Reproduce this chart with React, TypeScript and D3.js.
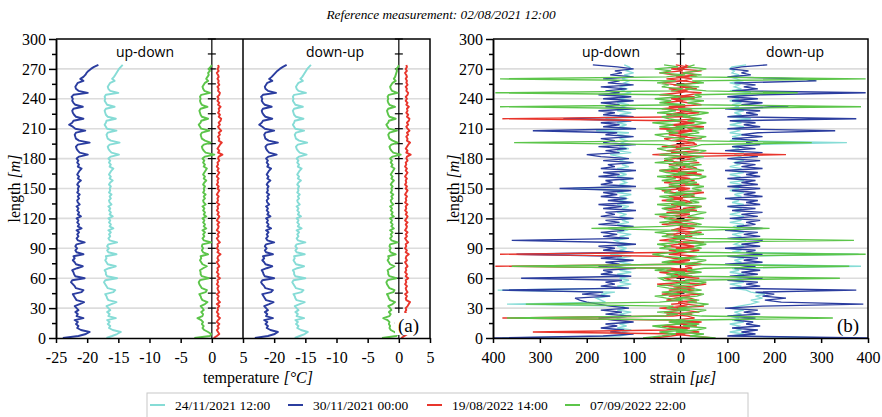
import React from 'react';
import * as d3 from 'd3';

// sampling positions along the cable [m]
const lengths = d3.range(0, 275, 2);

const seriesNames = ['24/11/2021 12:00', '30/11/2021 00:00', '19/08/2022 14:00', '07/09/2022 22:00'];
const seriesColors = ['#86dcd6', '#2b3d9f', '#e8352c', '#5cc54a'];

const tempTicksA = [-25, -20, -15, -10, -5, 0, 5];
const tempTicksB = [-20, -15, -10, -5, 0, 5];
const strainTicks = [-400, -300, -200, -100, 0, 100, 200, 300, 400];
const lengthTicks = [0, 30, 60, 90, 120, 150, 180, 210, 240, 270, 300];

// temperature [°C], up-down
const tUdCyan = [
  -16.9,-16.0,-15.2,-14.6,-15.9,-16.5,-16.3,-16.7,-16.4,-16.8,
  -15.4,-16.6,-16.4,-16.8,-16.3,-16.6,-16.9,-16.1,-15.3,-16.6,
  -16.8,-16.9,-17.1,-15.8,-15.5,-16.7,-16.9,-17.1,-17.3,-17.1,
  -15.2,-16.8,-17.0,-17.0,-17.2,-16.5,-15.4,-16.7,-16.9,-17.1,
  -16.9,-17.0,-15.3,-16.6,-16.8,-16.5,-16.8,-16.6,-15.2,-16.4,
  -16.6,-16.3,-16.5,-16.2,-16.6,-15.8,-16.4,-16.2,-16.5,-16.3,
  -16.6,-15.9,-16.4,-16.2,-16.5,-16.3,-16.6,-16.1,-16.4,-16.5,
  -16.2,-16.4,-16.1,-16.5,-16.3,-16.4,-16.2,-16.5,-16.3,-15.9,
  -16.4,-16.2,-16.5,-16.3,-16.1,-15.8,-16.4,-16.2,-16.5,-16.3,
  -16.6,-16.2,-14.9,-16.1,-16.4,-16.6,-16.7,-16.4,-14.8,-16.2,
  -16.7,-16.8,-16.9,-16.7,-15.3,-16.8,-17.0,-17.2,-17.0,-16.9,
  -15.4,-16.7,-17.0,-17.1,-17.2,-17.0,-15.6,-16.8,-17.0,-17.2,
  -17.1,-17.2,-17.0,-15.0,-16.3,-16.6,-16.7,-16.5,-16.3,-15.6,
  -16.0,-15.7,-15.5,-15.3,-15.1,-14.9,-14.6,-14.3,
];
const tUdBlue = [
  -23.9,-21.4,-20.2,-19.6,-21.0,-21.6,-21.4,-21.8,-21.5,-22.0,
  -20.6,-21.7,-21.5,-21.9,-21.4,-21.7,-22.0,-21.2,-20.5,-21.7,
  -21.9,-22.1,-22.3,-20.9,-20.6,-21.8,-22.0,-22.3,-22.6,-22.4,
  -20.4,-21.9,-22.1,-22.2,-22.4,-21.6,-20.7,-21.8,-22.0,-22.3,
  -22.0,-22.2,-20.6,-21.7,-21.9,-21.6,-21.9,-21.7,-20.4,-21.5,
  -21.7,-21.4,-21.6,-21.3,-21.7,-20.9,-21.5,-21.3,-21.6,-21.4,
  -21.7,-21.0,-21.5,-21.3,-21.6,-21.4,-21.7,-21.2,-21.5,-21.6,
  -21.3,-21.5,-21.2,-21.6,-21.4,-21.5,-21.3,-21.6,-21.4,-21.0,
  -21.5,-21.3,-21.6,-21.4,-21.2,-20.9,-21.5,-21.3,-21.6,-21.4,
  -21.7,-21.3,-19.9,-21.2,-21.5,-21.7,-21.8,-21.5,-19.6,-21.3,
  -21.8,-21.9,-22.0,-21.8,-20.3,-21.9,-22.3,-22.9,-22.4,-22.2,
  -20.6,-21.8,-22.1,-22.3,-22.4,-22.2,-20.7,-21.9,-22.2,-22.4,
  -22.3,-22.5,-22.2,-19.9,-21.4,-21.8,-21.9,-21.7,-21.5,-20.6,
  -21.1,-20.6,-20.3,-20.1,-19.8,-19.4,-18.9,-18.2,
];
const tUdRed = [
  0.3,0.8,1.2,1.0,0.8,1.1,0.9,1.2,0.8,1.0,
  1.3,0.9,1.1,0.8,1.0,0.9,1.2,0.8,1.3,1.0,
  0.9,1.1,0.8,1.2,1.0,0.9,1.1,0.8,1.0,0.9,
  1.3,0.9,1.1,0.8,1.0,0.9,1.2,1.0,0.8,1.1,
  0.9,1.0,1.4,0.9,1.1,0.8,1.0,0.9,1.3,1.0,
  0.8,1.1,0.9,1.2,0.8,1.0,1.1,0.9,1.2,0.8,
  1.0,1.2,0.9,1.1,0.8,1.0,0.9,1.2,0.8,1.0,
  0.9,1.1,0.8,1.0,1.2,0.9,1.1,0.8,1.0,0.9,
  1.1,0.8,1.0,1.2,0.9,1.1,0.8,1.0,0.9,1.2,
  1.0,1.1,1.7,1.0,1.2,0.9,1.1,1.3,1.6,1.1,
  1.2,1.0,1.3,1.1,1.5,1.2,1.0,1.3,1.1,1.4,
  1.5,1.1,1.3,1.0,1.2,1.1,1.4,1.0,1.2,0.9,
  1.1,0.9,1.2,1.3,1.0,1.1,0.9,1.2,1.0,1.1,
  0.9,1.1,1.0,0.8,1.1,0.9,1.1,1.0,
];
const tUdGreen = [
  -2.8,-0.3,-0.1,-0.6,-1.2,-1.5,-1.3,-1.6,-1.4,-1.7,
  -2.3,-1.5,-1.4,-1.7,-1.3,-1.5,-1.8,-1.1,-0.7,-1.5,
  -1.7,-1.8,-2.0,-1.0,-0.8,-1.6,-1.8,-2.0,-2.1,-1.9,
  -0.5,-1.6,-1.8,-1.8,-1.9,-1.4,-0.8,-1.5,-1.7,-1.9,
  -1.7,-1.8,-0.6,-1.4,-1.6,-1.4,-1.6,-1.5,-0.1,-1.3,
  -1.5,-1.2,-1.4,-1.1,-1.5,-0.9,-1.3,-1.1,-1.4,-1.2,
  -1.5,-0.9,-1.3,-1.1,-1.4,-1.2,-1.5,-1.0,-1.3,-1.4,
  -1.1,-1.3,-1.0,-1.4,-1.2,-1.3,-1.1,-1.4,-1.2,-0.9,
  -1.3,-1.1,-1.4,-1.2,-1.0,-0.8,-1.3,-1.1,-1.4,-1.2,
  -1.5,-1.1,0.4,-1.0,-1.3,-1.5,-1.6,-1.3,-0.2,-1.1,
  -1.6,-1.7,-1.8,-1.6,-0.4,-1.7,-1.9,-2.1,-1.8,-1.7,
  -0.6,-1.6,-1.8,-1.9,-2.0,-1.8,-0.7,-1.6,-1.8,-1.9,
  -1.8,-1.9,-1.7,-0.3,-1.2,-1.4,-1.5,-1.3,-1.1,-0.6,
  -0.9,-0.7,-0.5,-0.6,-0.3,-0.5,-0.2,0.0,
];

// temperature [°C], down-up
const tDuCyan = [
  -16.7,-15.9,-15.1,-14.6,-15.7,-16.3,-16.1,-16.5,-16.2,-16.6,
  -15.2,-16.4,-16.2,-16.6,-16.1,-16.4,-16.7,-15.9,-15.1,-16.4,
  -16.6,-16.7,-16.9,-15.6,-15.3,-16.5,-16.7,-16.9,-17.1,-16.9,
  -15.0,-16.6,-16.8,-16.8,-17.0,-16.3,-15.2,-16.5,-16.7,-16.9,
  -16.7,-16.8,-15.1,-16.4,-16.6,-16.3,-16.6,-16.4,-15.0,-16.2,
  -16.4,-16.1,-16.3,-16.0,-16.4,-15.6,-16.2,-16.0,-16.3,-16.1,
  -16.4,-15.7,-16.2,-16.0,-16.3,-16.1,-16.4,-15.9,-16.2,-16.3,
  -16.0,-16.2,-15.9,-16.3,-16.1,-16.2,-16.0,-16.3,-16.1,-15.7,
  -16.2,-16.0,-16.3,-16.1,-15.9,-15.6,-16.2,-16.0,-16.3,-16.1,
  -16.4,-16.0,-14.8,-15.9,-16.2,-16.4,-16.5,-16.2,-14.7,-16.0,
  -16.5,-16.6,-16.7,-16.5,-15.2,-16.6,-16.8,-17.0,-16.8,-16.7,
  -15.3,-16.5,-16.8,-16.9,-17.0,-16.8,-15.4,-16.6,-16.8,-17.0,
  -16.9,-17.0,-16.8,-14.9,-16.1,-16.4,-16.5,-16.3,-16.1,-15.4,
  -15.8,-15.5,-15.3,-15.1,-14.9,-14.7,-14.4,-14.1,
];
const tDuBlue = [
  -23.1,-21.0,-19.9,-19.4,-20.6,-21.2,-21.0,-21.4,-21.1,-21.6,
  -20.2,-21.3,-21.1,-21.5,-21.0,-21.3,-21.6,-20.8,-20.1,-21.3,
  -21.5,-21.7,-21.9,-20.5,-20.2,-21.4,-21.6,-21.9,-22.1,-21.9,
  -20.0,-21.5,-21.7,-21.8,-22.0,-21.2,-20.3,-21.4,-21.6,-21.9,
  -21.6,-21.8,-20.2,-21.3,-21.5,-21.2,-21.5,-21.3,-20.0,-21.1,
  -21.3,-21.0,-21.2,-20.9,-21.3,-20.5,-21.1,-20.9,-21.2,-21.0,
  -21.3,-20.6,-21.1,-20.9,-21.2,-21.0,-21.3,-20.8,-21.1,-21.2,
  -20.9,-21.1,-20.8,-21.2,-21.0,-21.1,-20.9,-21.2,-21.0,-20.6,
  -21.1,-20.9,-21.2,-21.0,-20.8,-20.5,-21.1,-20.9,-21.2,-21.0,
  -21.3,-20.9,-19.6,-20.8,-21.1,-21.3,-21.4,-21.1,-19.4,-20.9,
  -21.4,-21.5,-21.6,-21.4,-20.0,-21.5,-21.9,-22.4,-22.0,-21.8,
  -20.3,-21.4,-21.7,-21.9,-22.0,-21.8,-20.4,-21.5,-21.8,-22.0,
  -21.9,-22.1,-21.8,-19.7,-21.0,-21.4,-21.5,-21.3,-21.1,-20.3,
  -20.8,-20.4,-20.1,-19.8,-19.5,-19.1,-18.6,-18.0,
];
const tDuRed = [
  0.4,0.9,1.4,1.2,1.0,1.3,1.1,1.4,1.0,1.2,
  1.5,1.1,1.3,1.0,1.2,1.1,1.4,1.6,1.8,1.2,
  1.1,1.3,1.0,1.4,1.2,1.1,1.3,1.0,1.2,1.1,
  1.5,1.1,1.3,1.0,1.2,1.1,1.4,1.2,1.0,1.3,
  1.1,1.2,1.6,1.1,1.3,1.0,1.2,1.1,1.5,1.2,
  1.0,1.3,1.1,1.4,1.0,1.2,1.3,1.1,1.4,1.0,
  1.2,1.4,1.1,1.3,1.0,1.2,1.1,1.4,1.0,1.2,
  1.1,1.3,1.0,1.2,1.4,1.1,1.3,1.0,1.2,1.1,
  1.3,1.0,1.2,1.4,1.1,1.3,1.0,1.2,1.1,1.4,
  1.2,1.3,1.9,1.2,1.4,1.1,1.3,1.5,1.8,1.3,
  1.4,1.2,1.5,1.3,1.7,1.4,1.2,1.5,1.3,1.6,
  1.7,1.3,1.5,1.2,1.4,1.3,1.6,1.2,1.4,1.1,
  1.3,1.1,1.4,1.5,1.2,1.3,1.1,1.4,1.2,1.3,
  1.1,1.3,1.2,1.0,1.3,1.1,1.3,1.2,
];
const tDuGreen = [
  -2.7,-0.4,-0.2,-0.7,-1.3,-1.5,-1.4,-1.6,-1.5,-1.8,
  -2.5,-1.5,-1.3,-1.6,-1.2,-1.4,-1.7,-1.0,-0.6,-1.4,
  -1.6,-1.7,-1.9,-0.9,-0.7,-1.5,-1.7,-1.9,-2.0,-1.8,
  -0.4,-1.5,-1.7,-1.7,-1.8,-1.3,-0.7,-1.4,-1.6,-1.8,
  -1.6,-1.7,-0.5,-1.3,-1.5,-1.3,-1.5,-1.4,-0.2,-1.2,
  -1.4,-1.1,-1.3,-1.0,-1.4,-0.8,-1.2,-1.0,-1.3,-1.1,
  -1.4,-0.8,-1.2,-1.0,-1.3,-1.1,-1.4,-0.9,-1.2,-1.3,
  -1.0,-1.2,-0.9,-1.3,-1.1,-1.2,-1.0,-1.3,-1.1,-0.8,
  -1.2,-1.0,-1.3,-1.1,-0.9,-0.7,-1.2,-1.0,-1.3,-1.1,
  -1.4,-1.0,0.3,-0.9,-1.2,-1.4,-1.5,-1.2,-0.2,-1.0,
  -1.5,-1.6,-1.7,-1.5,-0.3,-1.6,-1.8,-2.0,-1.7,-1.6,
  -0.5,-1.5,-1.7,-1.8,-1.9,-1.7,-0.6,-1.5,-1.7,-1.8,
  -1.7,-1.8,-1.6,-0.2,-1.1,-1.3,-1.4,-1.2,-1.0,-0.5,
  -0.8,-0.6,-0.5,-0.4,-0.3,-0.4,-0.1,0.0,
];

// strain [µε], up-down (drawn to the left)
const sUdCyan = [
  380,130,110,125,105,135,115,130,105,125,
  135,110,130,105,135,115,125,370,160,170,
  180,150,170,140,390,115,135,105,130,110,
  130,110,135,105,130,115,140,105,130,110,
  135,105,150,110,130,115,135,105,130,140,
  110,130,105,135,115,125,105,135,110,125,
  105,130,115,135,105,125,110,135,105,130,
  115,130,105,135,110,230,105,130,115,125,
  105,135,115,130,105,135,110,125,105,130,
  115,130,150,105,135,110,130,105,125,115,
  130,105,135,110,180,105,130,115,135,105,
  160,110,130,105,135,115,125,110,135,105,
  130,110,135,105,125,115,130,105,120,110,
  125,105,120,100,115,105,110,120,
];
const sUdBlue = [
  400,165,100,150,120,170,135,160,100,145,
  175,105,160,125,170,110,150,175,200,215,
  225,150,210,165,380,110,170,140,160,125,
  340,105,170,145,165,95,175,130,160,100,
  170,125,350,100,165,140,175,95,160,360,
  110,165,135,170,120,155,100,175,130,160,
  100,170,140,160,95,165,125,175,100,155,
  115,170,135,165,105,258,95,170,145,160,
  100,175,130,165,95,170,140,155,100,165,
  110,170,200,130,160,115,175,95,165,140,
  170,100,160,135,315,95,165,130,170,105,
  250,100,165,140,175,95,160,130,170,100,
  165,105,175,130,160,115,170,100,155,130,
  165,100,150,125,140,100,135,187,
];
const sUdRed = [
  60,20,-10,315,30,-20,40,5,-30,25,
  380,15,-25,35,0,45,-15,20,-35,30,
  10,-20,40,-5,25,-30,15,50,-10,20,
  35,-25,10,45,-15,20,395,-5,30,-20,
  15,40,385,-10,25,-30,35,5,-20,45,
  10,-15,30,-35,20,5,-25,40,0,-10,
  25,45,-20,10,-30,35,0,20,-15,40,
  -5,25,-25,15,40,-10,20,-30,35,5,
  -20,30,10,-35,45,0,-15,25,-5,35,
  15,-25,60,-10,30,-20,40,5,-30,20,
  35,-15,25,0,-25,45,-10,20,-30,15,
  380,-20,30,5,-25,40,-10,15,35,-5,
  20,-30,45,0,-15,25,-25,10,40,-10,
  30,-20,15,45,-5,20,-15,10,
];
const sUdGreen = [
  80,40,10,45,-15,30,60,0,25,-10,
  370,35,5,50,-20,30,15,330,45,-5,
  30,55,0,40,-15,25,50,10,-20,35,
  45,5,30,-10,55,20,360,0,40,15,
  -15,35,60,10,-5,45,20,50,0,25,
  -10,40,15,55,5,190,30,-15,45,10,
  35,0,55,-20,25,40,10,50,-10,30,
  15,45,-5,35,20,55,0,25,-15,40,
  10,50,-10,30,45,5,25,-20,55,15,
  35,0,45,-15,30,50,10,40,355,20,
  -10,35,55,5,30,-5,45,15,60,0,
  25,40,-15,50,10,35,385,-10,45,20,
  55,0,30,395,15,-5,40,25,50,10,
  385,30,-10,45,20,55,5,35,
];

// strain [µε], down-up (drawn to the right)
const sDuCyan = [
  330,110,135,105,130,115,125,105,135,110,
  125,105,130,115,135,105,125,150,165,150,
  175,160,180,150,140,110,130,105,135,110,
  130,115,135,105,125,110,385,105,130,115,
  135,105,380,110,130,105,135,115,125,140,
  105,130,110,135,105,125,115,135,105,130,
  110,135,105,125,115,130,105,135,110,125,
  105,130,115,135,105,125,110,130,105,135,
  115,125,105,135,110,130,105,125,115,135,
  105,130,115,135,105,125,110,130,355,105,
  130,110,135,105,125,115,135,105,130,110,
  150,105,130,115,135,105,125,110,130,105,
  125,110,135,150,105,130,115,125,105,130,
  120,105,125,110,115,105,110,140,
];
const sDuBlue = [
  400,100,160,130,165,110,170,140,155,115,
  160,100,170,135,165,95,175,390,215,180,
  225,175,200,160,375,105,170,140,165,100,
  175,105,165,130,170,115,160,95,175,135,
  165,100,175,140,160,95,170,130,165,175,
  100,170,135,165,95,175,120,160,140,170,
  105,165,130,175,110,160,100,170,140,165,
  95,175,135,160,110,170,100,165,130,160,
  100,170,140,165,95,175,130,160,115,170,
  100,165,135,175,95,160,110,170,140,165,
  110,175,130,165,330,100,170,135,160,105,
  375,100,165,140,170,95,230,130,175,110,
  165,100,170,395,110,165,135,160,115,290,
  260,100,150,130,145,105,130,185,
];
const sDuRed = [
  70,25,-15,40,10,-25,35,0,45,-10,
  30,15,-30,40,5,-20,50,10,-5,35,
  20,-25,45,0,30,-15,25,55,-10,15,
  40,-20,5,35,-30,25,10,45,-15,20,
  0,35,-25,15,40,-10,30,-5,50,20,
  -15,25,10,45,-20,30,0,35,-25,15,
  40,-10,20,-30,35,5,45,-15,25,10,
  -20,30,15,50,-5,20,-25,40,0,30,
  15,-15,45,5,-20,35,25,-10,40,0,
  30,-5,225,-20,40,10,-15,35,25,-10,
  45,0,20,-25,30,15,50,-5,25,-20,
  35,10,-15,40,0,25,-25,45,15,-10,
  30,-5,20,45,-20,35,10,-15,40,5,
  25,-10,35,0,45,-5,20,10,
];
const sDuGreen = [
  75,20,50,-10,35,55,5,40,-15,30,
  325,45,0,35,55,-5,30,60,15,40,
  -10,35,50,5,45,20,-15,40,55,10,
  340,25,-5,45,15,50,360,0,35,55,
  10,40,395,20,-10,45,30,55,5,370,
  35,-15,50,20,40,190,5,45,25,-10,
  50,15,35,55,0,30,45,-15,40,20,
  55,5,30,-10,45,25,50,10,35,0,
  40,55,15,-5,50,30,10,45,-15,35,
  20,50,5,40,55,-10,30,45,280,15,
  35,55,0,40,25,50,-10,30,55,15,
  45,5,35,60,20,-5,385,40,15,50,
  0,45,30,250,55,10,40,-10,50,25,
  395,20,45,5,35,55,15,30,
];

const tempUd = [tUdCyan, tUdBlue, tUdRed, tUdGreen];
const tempDu = [tDuCyan, tDuBlue, tDuRed, tDuGreen];
const strainUd = [sUdCyan, sUdBlue, sUdRed, sUdGreen];
const strainDu = [sDuCyan, sDuBlue, sDuRed, sDuGreen];

const serif = '"Liberation Serif", "Times New Roman", serif';
const sans = '"Open Sans", "DejaVu Sans", sans-serif';

const App = () => {
  const svgRef = React.useRef(null);

  React.useEffect(() => {
    const svg = d3.select(svgRef.current);
    svg.selectAll('*').remove();

    const top = 39, bottom = 338;
    const y = d3.scaleLinear().domain([0, 300]).range([bottom, top]);
    const xA = d3.scaleLinear().domain([-25, 5]).range([56, 243]);
    const xB = d3.scaleLinear().domain([-25, 5]).range([243, 430]);
    const xS = d3.scaleLinear().domain([-400, 400]).range([493, 868]);

    // title
    svg.append('text')
      .attr('x', 441).attr('y', 19)
      .attr('text-anchor', 'middle')
      .style('font-family', serif).style('font-style', 'italic').style('font-size', '13.3px')
      .text('Reference measurement: 02/08/2021 12:00');

    // horizontal grid
    const grid = (x0, x1) => svg.append('g')
      .selectAll('line')
      .data(d3.range(30, 271, 30))
      .join('line')
        .attr('x1', x0).attr('x2', x1)
        .attr('y1', d => y(d)).attr('y2', d => y(d))
        .attr('stroke', '#dcdcdc').attr('stroke-width', 1.6);
    grid(56, 430);
    grid(493, 868);

    // zero line with crosses every 15 m
    const zeroAxis = (xp) => {
      const g = svg.append('g');
      g.append('line')
        .attr('x1', xp).attr('x2', xp).attr('y1', y(0)).attr('y2', y(300))
        .attr('stroke', '#000').attr('stroke-width', 1.2);
      g.selectAll('line.cross')
        .data(d3.range(15, 301, 15))
        .join('line')
          .attr('class', 'cross')
          .attr('x1', xp - 4).attr('x2', xp + 4)
          .attr('y1', d => y(d)).attr('y2', d => y(d))
          .attr('stroke', '#000').attr('stroke-width', 1.2);
    };
    zeroAxis(xA(0));
    zeroAxis(xB(0));
    zeroAxis(xS(0));

    // temperature profiles
    const tempLine = (xs) => d3.line()
      .x(d => xs(d))
      .y((d, i) => y(lengths[i]));
    const tg = svg.append('g').attr('fill', 'none');
    tempUd.forEach((s, k) => {
      tg.append('path').attr('d', tempLine(xA)(s))
        .attr('stroke', seriesColors[k]).attr('stroke-width', 1.9).attr('stroke-linejoin', 'round');
    });
    tempDu.forEach((s, k) => {
      tg.append('path').attr('d', tempLine(xB)(s))
        .attr('stroke', seriesColors[k]).attr('stroke-width', 1.9).attr('stroke-linejoin', 'round');
    });

    // strain profiles
    const sg = svg.append('g').attr('fill', 'none');
    [0, 1, 2, 3].forEach(k => {
      sg.append('path')
        .attr('d', d3.line().x(d => xS(-d)).y((d, i) => y(lengths[i]))(strainUd[k]))
        .attr('stroke', seriesColors[k]).attr('stroke-width', 1.4);
      sg.append('path')
        .attr('d', d3.line().x(d => xS(d)).y((d, i) => y(lengths[i]))(strainDu[k]))
        .attr('stroke', seriesColors[k]).attr('stroke-width', 1.4);
    });

    // panel labels with white background
    const tag = (x0, txt) => {
      svg.append('rect').attr('x', x0 - 3).attr('y', 313).attr('width', 30).attr('height', 22).attr('fill', '#fff');
      svg.append('text').attr('x', x0).attr('y', 332)
        .style('font-family', serif).style('font-size', '19px').text(txt);
    };
    tag(398, '(a)');
    tag(837, '(b)');

    // direction labels
    [[145, 'up-down'], [335, 'down-up'], [611, 'up-down'], [795, 'down-up']].forEach(([xp, txt]) => {
      svg.append('text').attr('x', xp).attr('y', 57).attr('text-anchor', 'middle')
        .style('font-family', sans).style('font-size', '14px').text(txt);
    });

    // frames
    const frame = (x0, x1) => {
      svg.append('path')
        .attr('d', `M${x0},${top}H${x1}V${bottom}`)
        .attr('fill', 'none').attr('stroke', '#000').attr('stroke-width', 1.5);
    };
    frame(56, 430);
    frame(493, 868);
    svg.append('line').attr('x1', 243).attr('x2', 243).attr('y1', top).attr('y2', bottom)
      .attr('stroke', '#000').attr('stroke-width', 1.5);

    const styleAxis = (g) => {
      g.attr('font-family', null).attr('font-size', null);
      g.style('font-family', serif).style('font-size', '16px');
      g.selectAll('path').attr('stroke-width', 1.5);
      g.selectAll('line').attr('stroke-width', 1.5);
      g.selectAll('text').attr('fill', '#000').style('font-family', serif);
    };

    // y axes
    [56, 493].forEach(x0 => {
      svg.append('g').attr('transform', `translate(${x0},0)`)
        .call(d3.axisLeft(y).tickValues(d3.range(15, 300, 30)).tickSize(4).tickSizeOuter(0).tickFormat(() => ''))
        .call(styleAxis);
      svg.append('g').attr('transform', `translate(${x0},0)`)
        .call(d3.axisLeft(y).tickValues(lengthTicks).tickSize(7).tickPadding(3).tickSizeOuter(0).tickFormat(d => String(d)))
        .call(styleAxis);
    });

    // x axes
    svg.append('g').attr('transform', `translate(0,${bottom})`)
      .call(d3.axisBottom(xA).tickValues(tempTicksA).tickSize(5).tickPadding(9).tickSizeOuter(0).tickFormat(d => String(d)))
      .call(styleAxis);
    svg.append('g').attr('transform', `translate(0,${bottom})`)
      .call(d3.axisBottom(xB).tickValues(tempTicksB).tickSize(5).tickPadding(9).tickSizeOuter(0).tickFormat(d => String(d)))
      .call(styleAxis);
    svg.append('g').attr('transform', `translate(0,${bottom})`)
      .call(d3.axisBottom(xS).tickValues(strainTicks).tickSize(5).tickPadding(9).tickSizeOuter(0).tickFormat(d => String(Math.abs(d))))
      .call(styleAxis);

    // axis titles
    const xTitle = (xp, main, unit) => {
      const t = svg.append('text').attr('x', xp).attr('y', 383).attr('text-anchor', 'middle')
        .style('font-family', serif).style('font-size', '16px');
      t.append('tspan').text(main + ' ');
      t.append('tspan').style('font-style', 'italic').text(unit);
    };
    xTitle(258, 'temperature', '[°C]');
    xTitle(683, 'strain', '[με]');

    const yTitle = (xp) => {
      const t = svg.append('text')
        .attr('transform', `translate(${xp},${(top + bottom) / 2}) rotate(-90)`)
        .attr('text-anchor', 'middle')
        .style('font-family', serif).style('font-size', '16px');
      t.append('tspan').text('length ');
      t.append('tspan').style('font-style', 'italic').text('[m]');
    };
    yTitle(20);
    yTitle(459);

    // legend
    svg.append('rect').attr('x', 147).attr('y', 393).attr('width', 601).attr('height', 40)
      .attr('fill', '#fff').attr('stroke', '#c8c8c8').attr('stroke-width', 1);
    const legendX = [150, 288, 427, 565];
    seriesNames.forEach((name, k) => {
      svg.append('line').attr('x1', legendX[k]).attr('x2', legendX[k] + 15).attr('y1', 405).attr('y2', 405)
        .attr('stroke', seriesColors[k]).attr('stroke-width', 2);
      svg.append('text').attr('x', legendX[k] + 25).attr('y', 410)
        .style('font-family', serif).style('font-size', '13.5px').text(name);
    });
  }, []);

  return (
    <svg ref={svgRef} width={882} height={417}
      style={{ position: 'absolute', left: 0, top: 0, background: '#fff' }} />
  );
};

export default App;
